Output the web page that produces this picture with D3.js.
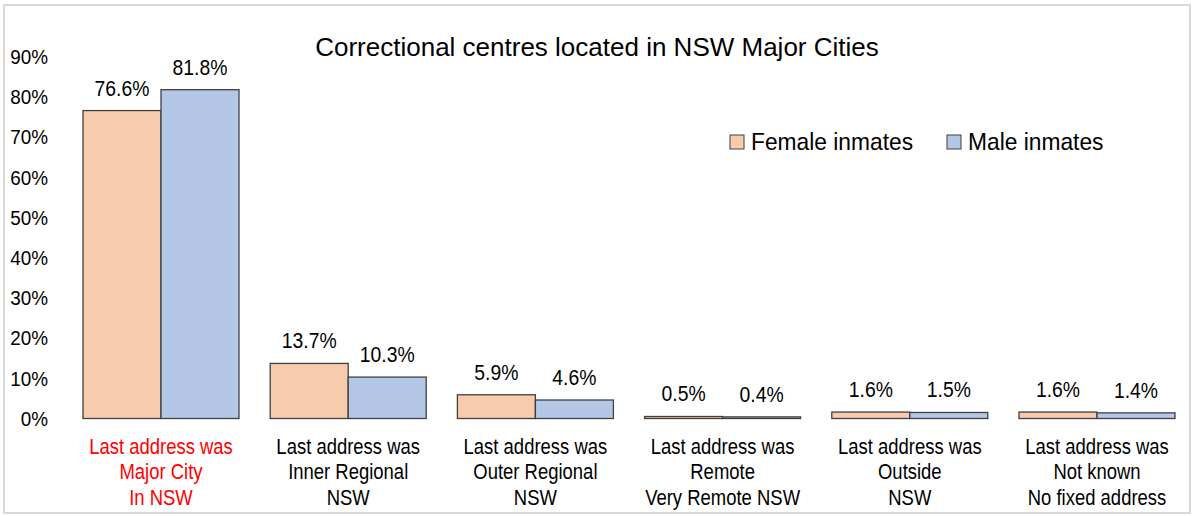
<!DOCTYPE html>
<html>
<head>
<meta charset="utf-8">
<script src="https://cdn.jsdelivr.net/npm/d3@7"></script>
<style>
  body { margin: 0; background: #fff; }
  svg text { font-family: "Liberation Sans", Arial, sans-serif; fill: #000; }
</style>
</head>
<body>
<div id="chart"></div>
<script>
// chart data
const categories = [
    ["Last address was", "Major City", "In NSW"],
    ["Last address was", "Inner Regional", "NSW"],
    ["Last address was", "Outer Regional", "NSW"],
    ["Last address was", "Remote", "Very Remote NSW"],
    ["Last address was", "Outside", "NSW"],
    ["Last address was", "Not known", "No fixed address"]
];
const femaleValues = [76.6, 13.7, 5.9, 0.5, 1.6, 1.6];
const maleValues = [81.8, 10.3, 4.6, 0.4, 1.5, 1.4];
const seriesNames = ["Female inmates", "Male inmates"];
const yTicks = [0, 10, 20, 30, 40, 50, 60, 70, 80, 90];

const width = 1192, height = 516;
const colors = ["#F8CBAD", "#B4C7E7"];

// the original uses a narrow font, so squeeze text sideways
function narrow(sel, px, py, s) {
    return sel.attr("x", 0).attr("y", 0)
        .attr("transform", `translate(${px},${py}) scale(${s},1)`);
}

const svg = d3.select("#chart").append("svg")
    .attr("width", width)
    .attr("height", height);

// light frame round the chart
svg.append("rect")
    .attr("x", 4).attr("y", 5)
    .attr("width", 1186).attr("height", 508)
    .attr("fill", "none")
    .attr("stroke", "#d9d9d9")
    .attr("stroke-width", 2);

const x = d3.scaleBand()
    .domain(d3.range(categories.length))
    .range([67.4, 1190.6])
    .paddingInner(0.1667)
    .paddingOuter(0.0833);

const xSub = d3.scaleBand()
    .domain([0, 1])
    .range([0, x.bandwidth()]);

const y = d3.scaleLinear()
    .domain([0, 90])
    .range([418.5, 56.7]);

// y axis labels only, no line
const yAxis = svg.append("g")
    .attr("transform", "translate(48,0)")
    .call(d3.axisLeft(y).tickValues(yTicks).tickFormat(d => d + "%").tickSize(0).tickPadding(0));
yAxis.select(".domain").remove();
yAxis.selectAll("text")
    .attr("x", 0)
    .attr("transform", "scale(0.9,1)")
    .style("font-size", "21px");

const rows = categories.map((c, i) => ({ i, vals: [femaleValues[i], maleValues[i]] }));

const groups = svg.selectAll(".group")
    .data(rows)
    .enter()
    .append("g")
    .attr("class", "group")
    .attr("transform", d => `translate(${x(d.i)},0)`);

groups.selectAll("rect")
    .data(d => d.vals.map((v, s) => ({ v, s })))
    .enter()
    .append("rect")
    .attr("x", d => xSub(d.s))
    .attr("y", d => y(d.v))
    .attr("width", xSub.bandwidth())
    .attr("height", d => y(0) - y(d.v))
    .attr("fill", d => colors[d.s])
    .attr("stroke", "#404040")
    .attr("stroke-width", 1.3);

groups.selectAll("text.value")
    .data(d => d.vals.map((v, s) => ({ v, s })))
    .enter()
    .append("text")
    .attr("class", "value")
    .attr("text-anchor", "middle")
    .style("font-size", "22px")
    .text(d => d.v.toFixed(1) + "%")
    .each(function (d) {
        narrow(d3.select(this), xSub(d.s) + xSub.bandwidth() / 2, y(d.v) - 15, 0.88);
    });

// category labels
groups.each(function (d) {
    const t = d3.select(this).append("text")
        .attr("text-anchor", "middle")
        .style("font-size", "22px")
        .style("fill", d.i === 0 ? "#FF0000" : "#000");
    narrow(t, x.bandwidth() / 2, 454, 0.84);
    categories[d.i].forEach((line, k) => {
        t.append("tspan")
            .attr("x", 0)
            .attr("y", k * 25.5)
            .text(line);
    });
});

// title
svg.append("text")
    .attr("x", 597)
    .attr("y", 56)
    .attr("text-anchor", "middle")
    .style("font-size", "26px")
    .text("Correctional centres located in NSW Major Cities");

// legend
const legendX = [730, 947];
const legend = svg.selectAll(".legend")
    .data(seriesNames)
    .enter()
    .append("g")
    .attr("class", "legend")
    .attr("transform", (d, i) => `translate(${legendX[i]},135)`);

legend.append("rect")
    .attr("width", 14).attr("height", 14)
    .attr("fill", (d, i) => colors[i])
    .attr("stroke", "#404040")
    .attr("stroke-width", 1);

legend.append("text")
    .style("font-size", "24px")
    .text(d => d)
    .each(function () {
        narrow(d3.select(this), 21, 15, 0.95);
    });
</script>
</body>
</html>
